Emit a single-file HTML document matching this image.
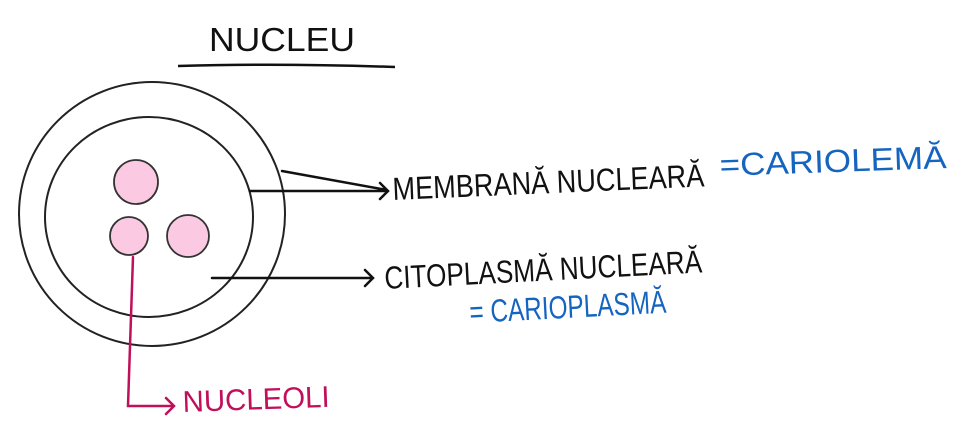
<!DOCTYPE html>
<html><head><meta charset="utf-8"><style>
html,body{margin:0;padding:0;background:#fff;width:959px;height:442px;overflow:hidden}
svg text{font-family:"Liberation Sans",sans-serif}
</style></head><body>
<svg width="959" height="442" viewBox="0 0 959 442" xmlns="http://www.w3.org/2000/svg">
<text x="209" y="51" font-size="33" fill="#111" textLength="146" lengthAdjust="spacingAndGlyphs">NUCLEU</text>
<path d="M178 66 Q280 63 395 67" stroke="#111" stroke-width="2.5" fill="none"/>
<ellipse cx="152" cy="214" rx="133" ry="132" fill="none" stroke="#222" stroke-width="2"/>
<ellipse cx="149" cy="217" rx="104" ry="100" fill="none" stroke="#222" stroke-width="2"/>
<circle cx="136" cy="182" r="22" fill="#fbc9e1" stroke="#333" stroke-width="1.8"/>
<circle cx="129" cy="236" r="19" fill="#fbc9e1" stroke="#333" stroke-width="1.8"/>
<circle cx="188" cy="236" r="21" fill="#fbc9e1" stroke="#333" stroke-width="1.8"/>
<g stroke="#111" stroke-width="2.5" fill="none" stroke-linecap="round">
<path d="M282 171 L387 190 M250 191 L388 191 M380 183 L388 191 L380 199"/>
<path d="M212 278 L373 278 M365 270 L373 278 L365 286"/>
</g>
<g stroke="#c0105a" stroke-width="2.5" fill="none" stroke-linecap="round">
<path d="M133 257 L128 406 L173 406 M166 398 L174 406 L166 414"/>
</g>
<text x="393" y="200" font-size="32" fill="#111" textLength="312" lengthAdjust="spacingAndGlyphs" transform="rotate(-2.5 393 200)">MEMBRANĂ NUCLEARĂ</text>
<text x="720" y="176" font-size="32" fill="#1565c0" textLength="227" lengthAdjust="spacingAndGlyphs" transform="rotate(-2 720 176)">=CARIOLEMĂ</text>
<text x="385" y="289" font-size="32" fill="#111" textLength="318" lengthAdjust="spacingAndGlyphs" transform="rotate(-3 385 289)">CITOPLASMĂ NUCLEARĂ</text>
<text x="470" y="323" font-size="32" fill="#1565c0" textLength="197" lengthAdjust="spacingAndGlyphs" transform="rotate(-3 470 323)">= CARIOPLASMĂ</text>
<text x="183" y="412" font-size="30" fill="#c0105a" textLength="147" lengthAdjust="spacingAndGlyphs" transform="rotate(-2 183 412)">NUCLEOLI</text>
</svg>
</body></html>
